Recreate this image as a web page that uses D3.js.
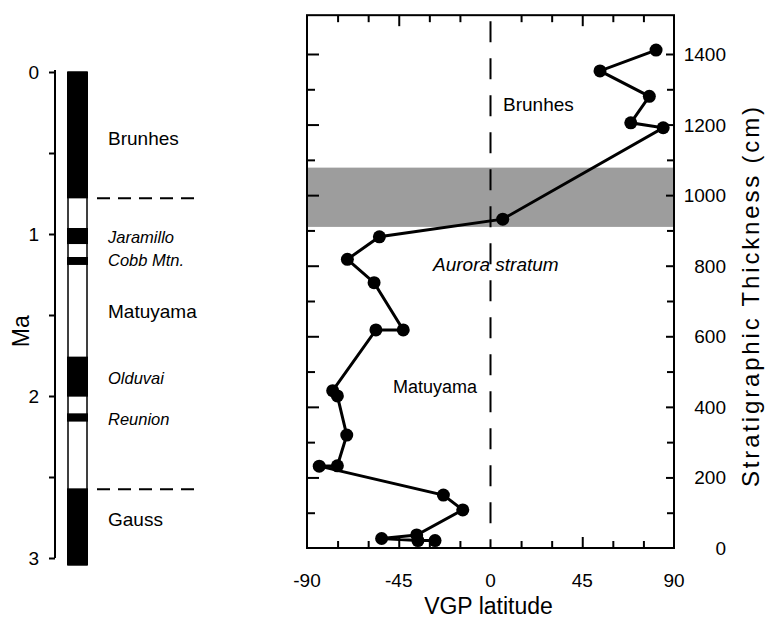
<!DOCTYPE html>
<html>
<head>
<meta charset="utf-8">
<script src="https://cdn.jsdelivr.net/npm/d3@7"></script>
<style>
  body { margin: 0; background: #fff; }
  svg text { font-family: "Liberation Sans", Arial, Helvetica, sans-serif; fill: #000; }
</style>
</head>
<body>
<div id="chart"></div>
<script>
// polarity time scale (Ma), normal (black) intervals
const normalStart = [0, 0.963, 1.142, 1.757, 2.107, 2.57];
const normalEnd = [0.78, 1.062, 1.191, 2.004, 2.158, 3.043];
const chronNames = ["Brunhes", "Jaramillo", "Cobb Mtn.", "Matuyama", "Olduvai", "Reunion", "Gauss"];
const chronLabelMa = [0.414, 1.02, 1.16, 1.48, 1.89, 2.14, 2.765];
const chronItalic = [false, true, true, false, true, true, false];
const chronBoundaries = [0.78, 2.575];
const maTicks = [0, 1, 2, 3];

// VGP latitude vs stratigraphic thickness, top to bottom
const vgpLat = [81.2, 53.7, 77.9, 68.8, 84.7, 6.0, -54.5, -70.2, -57.1, -42.8, -56.2,
  -77.4, -75.1, -70.5, -75.1, -84.0, -23.1, -13.6, -36.2, -53.4, -35.6, -27.2];
const thickness = [1411, 1352, 1280, 1205, 1191, 932, 882, 818, 752, 618, 618,
  446, 431, 320, 233, 232, 150, 108, 37, 27, 21, 21];
const latTicks = [-90, -45, 0, 45, 90];
const thickTicks = [0, 200, 400, 600, 800, 1000, 1200, 1400];
const auroraBand = [910, 1078];

const W = 766, H = 622;
const svg = d3.select("#chart").append("svg")
  .attr("width", W)
  .attr("height", H);

// ---------- left panel: polarity column ----------
const ma = d3.scaleLinear().domain([0, 3]).range([72, 558]);

svg.append("g")
  .attr("transform", "translate(55,0)")
  .call(d3.axisLeft(ma).tickValues(d3.range(0, 3.01, 0.5)).tickSize(6).tickFormat(""))
  .call(g => g.select(".domain").attr("d", `M0,${ma(0) - 2}V${ma(3)}`).attr("stroke-width", 2))
  .call(g => g.selectAll(".tick line").attr("stroke-width", 2));

svg.append("g").selectAll("text")
  .data(maTicks)
  .join("text")
  .attr("x", 39)
  .attr("y", d => ma(d) + 7)
  .attr("text-anchor", "end")
  .style("font-size", "19px")
  .text(d => d);

svg.append("text")
  .attr("transform", `translate(29,${ma(1.6)}) rotate(-90)`)
  .attr("text-anchor", "middle")
  .style("font-size", "23px")
  .text("Ma");

const barX = 67, barW = 21;
svg.append("rect")
  .attr("x", barX + 1)
  .attr("y", ma(0))
  .attr("width", barW - 2)
  .attr("height", ma(3.043) - ma(0))
  .attr("fill", "#fff")
  .attr("stroke", "#000")
  .attr("stroke-width", 1.5);

svg.append("g").selectAll("rect")
  .data(normalStart)
  .join("rect")
  .attr("x", barX)
  .attr("y", d => ma(d))
  .attr("width", barW)
  .attr("height", (d, i) => ma(normalEnd[i]) - ma(d))
  .attr("fill", "#000");

svg.append("g").selectAll("line")
  .data(chronBoundaries)
  .join("line")
  .attr("x1", 97).attr("x2", 197)
  .attr("y1", d => ma(d)).attr("y2", d => ma(d))
  .attr("stroke", "#000")
  .attr("stroke-width", 2)
  .attr("stroke-dasharray", "13,8");

svg.append("g").selectAll("text")
  .data(chronNames)
  .join("text")
  .attr("x", 108)
  .attr("y", (d, i) => ma(chronLabelMa[i]) + 6)
  .style("font-size", (d, i) => chronItalic[i] ? "16.5px" : "19px")
  .style("font-style", (d, i) => chronItalic[i] ? "italic" : "normal")
  .text(d => d);

// ---------- right panel: VGP latitude ----------
const x = d3.scaleLinear().domain([-90, 90]).range([307, 674]);
const y = d3.scaleLinear().domain([0, 1400]).range([548, 54]);
const yTop = 1510;

// shaded Aurora stratum band
svg.append("rect")
  .attr("x", x(-90))
  .attr("y", y(auroraBand[1]))
  .attr("width", x(90) - x(-90))
  .attr("height", y(auroraBand[0]) - y(auroraBand[1]))
  .attr("fill", "#9d9d9d");

// dashed zero line
svg.append("line")
  .attr("x1", x(0)).attr("x2", x(0))
  .attr("y1", y(yTop)).attr("y2", y(0))
  .attr("stroke", "#000")
  .attr("stroke-width", 2)
  .attr("stroke-dasharray", "21,16")
  .attr("stroke-dashoffset", -6);

// frame
svg.append("rect")
  .attr("x", x(-90))
  .attr("y", y(yTop))
  .attr("width", x(90) - x(-90))
  .attr("height", y(0) - y(yTop))
  .attr("fill", "none")
  .attr("stroke", "#000")
  .attr("stroke-width", 2);

function ticks(axis, values, size, transform) {
  svg.append("g")
    .attr("transform", transform)
    .call(axis.tickValues(values).tickSize(size).tickFormat(""))
    .call(g => g.select(".domain").remove())
    .call(g => g.selectAll(".tick line").attr("stroke-width", 2));
}
const latMinor = d3.range(-75, 90, 15).filter(d => d % 45 !== 0);
const latMajor = [-45, 45];
ticks(d3.axisTop(x), latMinor, 7, `translate(0,${y(0)})`);
ticks(d3.axisTop(x), latMajor, 11, `translate(0,${y(0)})`);
ticks(d3.axisBottom(x), latMinor, 7, `translate(0,${y(yTop)})`);
ticks(d3.axisBottom(x), latMajor, 11, `translate(0,${y(yTop)})`);

const thMinor = d3.range(100, 1500, 200);
const thMajor = d3.range(200, 1401, 200);
ticks(d3.axisRight(y), thMinor, 8, `translate(${x(-90)},0)`);
ticks(d3.axisRight(y), thMajor, 12, `translate(${x(-90)},0)`);
ticks(d3.axisLeft(y), thMinor, 7, `translate(${x(90)},0)`);
ticks(d3.axisLeft(y), thMajor, 8, `translate(${x(90)},0)`);

// tick labels
svg.append("g").selectAll("text")
  .data(latTicks)
  .join("text")
  .attr("x", d => x(d))
  .attr("y", 587)
  .attr("text-anchor", "middle")
  .style("font-size", "19px")
  .text(d => d);

svg.append("g").selectAll("text")
  .data(thickTicks)
  .join("text")
  .attr("x", 726)
  .attr("y", d => y(d) + 7)
  .attr("text-anchor", "end")
  .style("font-size", "19px")
  .text(d => d);

svg.append("text")
  .attr("x", x(0) - 2)
  .attr("y", 614)
  .attr("text-anchor", "middle")
  .style("font-size", "23px")
  .text("VGP latitude");

svg.append("text")
  .attr("transform", `translate(759,${297}) rotate(-90)`)
  .attr("text-anchor", "middle")
  .attr("textLength", 380)
  .attr("lengthAdjust", "spacing")
  .style("font-size", "24px")
  .text("Stratigraphic Thickness (cm)");

// data line and points
const pts = vgpLat.map((d, i) => [d, thickness[i]]);
svg.append("path")
  .datum(pts)
  .attr("d", d3.line().x(d => x(d[0])).y(d => y(d[1])))
  .attr("fill", "none")
  .attr("stroke", "#000")
  .attr("stroke-width", 3);

svg.append("g").selectAll("circle")
  .data(pts)
  .join("circle")
  .attr("cx", d => x(d[0]))
  .attr("cy", d => y(d[1]))
  .attr("r", 6.5)
  .attr("fill", "#000");

// in-plot labels
svg.append("text")
  .attr("x", 503).attr("y", 111)
  .style("font-size", "19px")
  .text("Brunhes");
svg.append("text")
  .attr("x", 433).attr("y", 271)
  .style("font-size", "19px")
  .style("font-style", "italic")
  .text("Aurora stratum");
svg.append("text")
  .attr("x", 393).attr("y", 393)
  .style("font-size", "18px")
  .text("Matuyama");
</script>
</body>
</html>
